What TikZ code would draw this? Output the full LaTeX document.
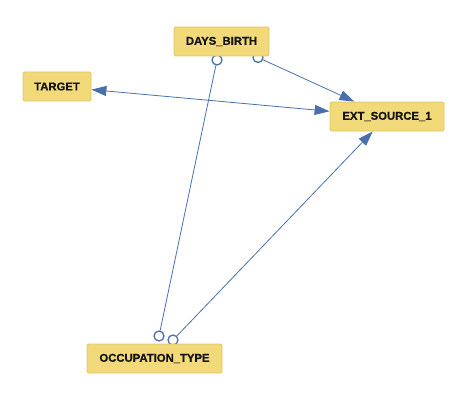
\documentclass[tikz,border=0pt]{standalone}
\usepackage{fontspec}
\setmainfont{Liberation Sans}
\newfontfamily\boxfont[FakeBold=0.6]{Liberation Sans Bold}
\usetikzlibrary{arrows.meta}
\pgfdeclarelayer{background}
\pgfsetlayers{background,main}
\definecolor{boxfill}{HTML}{F2D97A}
\definecolor{boxline}{HTML}{E2C465}
\definecolor{edgeblue}{HTML}{4A6FAE}
\tikzset{
  varbox/.style={rectangle, rounded corners=1.5pt, draw=boxline, fill=boxfill, line width=0.8pt,
    minimum height=29pt, inner sep=0pt, font=\fontsize{11.3pt}{13pt}\boxfont, text=black!92},
  endcirc/.style={circle, draw=edgeblue, fill=white, line width=1.3pt, minimum size=10pt, inner sep=0pt},
  conn/.style={draw=edgeblue, line width=0.8pt},
  tip/.style={-{Triangle[length=15pt,width=10pt]}},
  tips/.style={{Triangle[length=15pt,width=10pt]}-{Triangle[length=15pt,width=10pt]}}
}
\begin{document}
\begin{tikzpicture}[x=1pt,y=-1pt]
\useasboundingbox (0,0) rectangle (458,404);
\node[varbox, minimum width=95pt] (days) at (221.5,41.5) {DAYS\_BIRTH};
\node[varbox, minimum width=68pt] (target) at (57,86.5) {TARGET};
\node[varbox, minimum width=114pt] (ext) at (387,116.5) {EXT\_SOURCE\_1};
\node[varbox, minimum width=135pt] (occ) at (154.5,358.5) {OCCUPATION\_TYPE};
\begin{pgfonlayer}{background}
\node[endcirc] (c1) at (217,60) {};
\node[endcirc] (c2) at (258,57.5) {};
\node[endcirc] (c3) at (159,336) {};
\node[endcirc] (c4) at (173,340) {};
\draw[conn] (c1) -- (c3);
\draw[conn, tip] (c2) -- (ext);
\draw[conn, tip] (c4) -- (ext);
\draw[conn, tips] (target) -- (ext);
\end{pgfonlayer}
\end{tikzpicture}
\end{document}
